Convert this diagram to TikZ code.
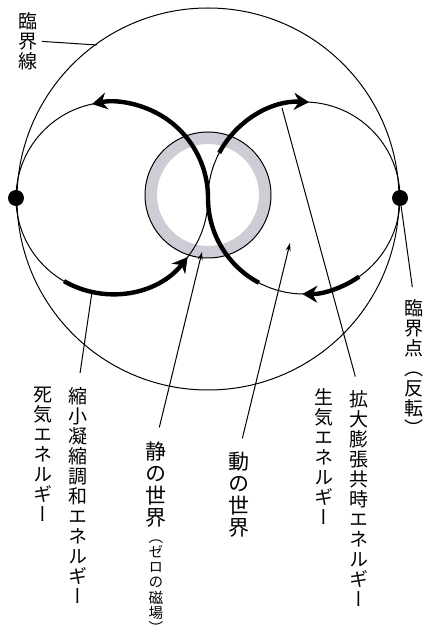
\documentclass[tikz,border=0pt]{standalone}
\usepackage{fontspec}
\newfontfamily\jpfont[RawFeature=+vert]{Noto Sans CJK JP}
\usetikzlibrary{arrows.meta}
\definecolor{ringgray}{RGB}{205,205,214}

\begin{document}
\begin{tikzpicture}[x=0.5pt,y=0.5pt]
	\tikzstyle{tate}=[align=center,inner sep=0pt,anchor=north,font=\jpfont\fontsize{9.5pt}{10pt}\selectfont]
	\tikzstyle{tatebig}=[tate,font=\jpfont\fontsize{10.5pt}{11pt}\selectfont]
	\tikzstyle{tatesmall}=[tate,font=\jpfont\fontsize{7.3pt}{7.6pt}\selectfont]
	\tikzstyle{dot}=[circle,fill=black,inner sep=0pt,minimum size=8pt]
	\tikzstyle{flow}=[line width=2.2pt,-{Stealth[length=7.5pt,width=8.5pt,inset=2.5pt]}]
	\tikzstyle{lead}=[line width=0.5pt,shorten <=7pt]
	\tikzstyle{pointer}=[lead,-{Stealth[length=4pt,width=2.5pt]}]
	\useasboundingbox (0,0) rectangle (428,-641);

	\coordinate (Cc) at (208,-199);
	\coordinate (Lc) at (112,-198);
	\coordinate (Rc) at (304,-198);
	\coordinate (Zc) at (208,-195);

	% static world ring
	\fill[ringgray,even odd rule] (Zc) circle (63) circle (51);
	\draw[line width=0.5pt] (Zc) circle (63);

	% critical line and the two worlds
	\draw[line width=0.5pt] (Cc) circle (191);
	\draw[line width=0.5pt] (Lc) circle (96);
	\draw[line width=0.5pt] (Rc) circle (96);

	% flows
	\draw[flow] (Rc) ++(242:96) arc[start angle=242,end angle=180,radius=96]
		arc[start angle=0,end angle=102,radius=96];
	\draw[flow] (Rc) ++(152:96) arc[start angle=152,end angle=87,radius=96];
	\draw[flow] (Rc) ++(-55:96) arc[start angle=-55,end angle=-91,radius=96];
	\draw[flow] (Lc) ++(240:96) arc[start angle=240,end angle=322,radius=96];

	\node[dot] (pL) at (16,-198) {};
	\node[dot] (pR) at (400,-198) {};

	% labels
	\node[tate] (sen) at (28,-12) {臨\\界\\線};
	\node[tate] (ten) at (414,-299) {臨\\界\\点\\（\\反\\転\\）};
	\node[tate] (kaku) at (359,-390) {拡\\大\\膨\\張\\共\\時\\エ\\ネ\\ル\\ギ\\ー};
	\node[tate] (sei) at (324,-388) {生\\気\\エ\\ネ\\ル\\ギ\\ー};
	\node[tatebig] (dou) at (239,-452) {動\\の\\世\\界};
	\node[tatebig] (shizu) at (156,-441) {静\\の\\世\\界};
	\node[tatesmall] (zero) at ([yshift=-6]shizu.south) {（\\ゼ\\ロ\\の\\磁\\場\\）};
	\node[tate] (shuku) at (78,-387) {縮\\小\\凝\\縮\\調\\和\\エ\\ネ\\ル\\ギ\\ー};
	\node[tate] (shi) at (43,-387) {死\\気\\エ\\ネ\\ル\\ギ\\ー};

	\coordinate (senEnd) at (97,-45);
	\coordinate (kakuEnd) at (282,-108);
	\coordinate (douEnd) at (290,-243);
	\coordinate (shizuEnd) at (202,-252);
	\coordinate (shukuEnd) at (92,-292);

	\draw[line width=0.5pt,shorten <=2pt] (sen.east) -- (senEnd);
	\draw[line width=0.5pt,shorten >=6pt] (pR) -- (ten.north);
	\draw[lead] (kaku.north) -- (kakuEnd);
	\draw[pointer] (dou.north) -- (douEnd);
	\draw[pointer] (shizu.north) -- (shizuEnd);
	\draw[lead] (shuku.north) -- (shukuEnd);
\end{tikzpicture}
\end{document}
